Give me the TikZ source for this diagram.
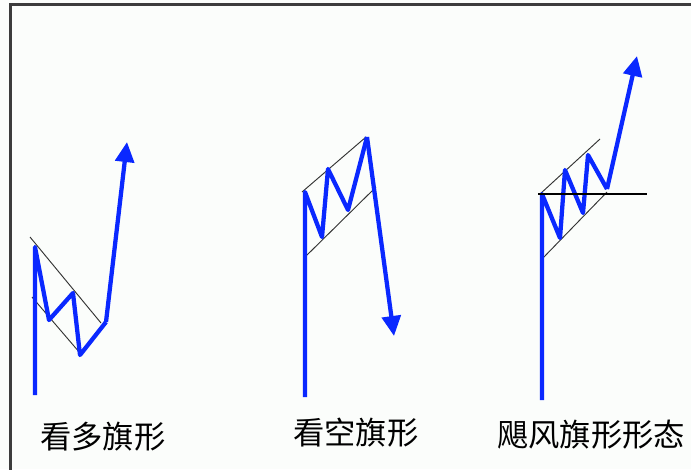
\documentclass[tikz,border=0pt]{standalone}
\usepackage{fontspec}
\newfontfamily\cjk{Noto Sans CJK SC}
\usetikzlibrary{arrows.meta}
\definecolor{flagblue}{RGB}{10,40,255}
\definecolor{framegray}{RGB}{60,60,60}
\definecolor{bg}{RGB}{251,253,251}
\tikzset{
  price/.style={draw=flagblue, line width=3.2pt, line join=round},
  pricearrow/.style={price, -{Triangle[length=15pt,width=14pt]}},
  channel/.style={draw=black!80, line width=0.7pt},
  neckline/.style={draw=black, line width=1.3pt},
  caption/.style={font=\cjk\fontsize{23.5pt}{26pt}\selectfont, anchor=west, inner sep=0pt, text=black},
}
\begin{document}
\begin{tikzpicture}[x=0.75pt,y=-0.75pt]
\useasboundingbox (0,0) rectangle (691,469);
\fill[bg] (0,0) rectangle (691,469);
% frame (right and bottom edges outside the picture)
\draw[framegray, line width=2pt] (10.5,475) -- (10.5,4.5) -- (700,4.5);

% ---- pattern 1: bull flag ----
\coordinate (a0) at (35,395);
\coordinate (a1) at (35,247);
\coordinate (a2) at (49,320);
\coordinate (a3) at (73,293);
\coordinate (a4) at (80,355);
\coordinate (a5) at (106,322);
\coordinate (a6) at (127,142);
\coordinate (au1) at (30,237);
\coordinate (au2) at (101,323);
\coordinate (al1) at (32,297);
\coordinate (al2) at (80,353);
\draw[channel] (au1) -- (au2);
\draw[channel] (al1) -- (al2);
\draw[price] (a0) -- (a1) -- (a2) -- (a3) -- (a4) -- (a5);
\draw[pricearrow] (a5) -- (a6);

% ---- pattern 2: bear flag ----
\coordinate (b0) at (305,397);
\coordinate (b1) at (305,192);
\coordinate (b2) at (322,237);
\coordinate (b3) at (328,169);
\coordinate (b4) at (348,210);
\coordinate (b5) at (367,137);
\coordinate (b6) at (394,336);
\coordinate (bu1) at (302,192);
\coordinate (bu2) at (366,137);
\coordinate (bl1) at (305,257);
\coordinate (bl2) at (376,187);
\draw[channel] (bu1) -- (bu2);
\draw[channel] (bl1) -- (bl2);
\draw[price] (b0) -- (b1) -- (b2) -- (b3) -- (b4) -- (b5);
\draw[pricearrow] (b5) -- (b6);

% ---- pattern 3: hurricane flag ----
\coordinate (c0) at (542,400);
\coordinate (c1) at (542,194);
\coordinate (c2) at (560,238);
\coordinate (c3) at (565,170);
\coordinate (c4) at (583,213);
\coordinate (c5) at (588,155);
\coordinate (c6) at (607,189);
\coordinate (c7) at (637,56);
\coordinate (cu1) at (540,194);
\coordinate (cu2) at (600,139);
\coordinate (cl1) at (542,259);
\coordinate (cl2) at (607,192);
\coordinate (ch1) at (538,194);
\coordinate (ch2) at (647,194);
\draw[channel] (cu1) -- (cu2);
\draw[channel] (cl1) -- (cl2);
\draw[price] (c0) -- (c1) -- (c2) -- (c3) -- (c4) -- (c5) -- (c6);
\draw[pricearrow] (c6) -- (c7);
\draw[neckline] (ch1) -- (ch2);

% ---- captions ----
\node[caption] (t1) at (40,437) {看多旗形};
\node[caption] (t2) at (293,433) {看空旗形};
\node[caption] (t3) at (497,435) {飓风旗形形态};
\end{tikzpicture}
\end{document}
